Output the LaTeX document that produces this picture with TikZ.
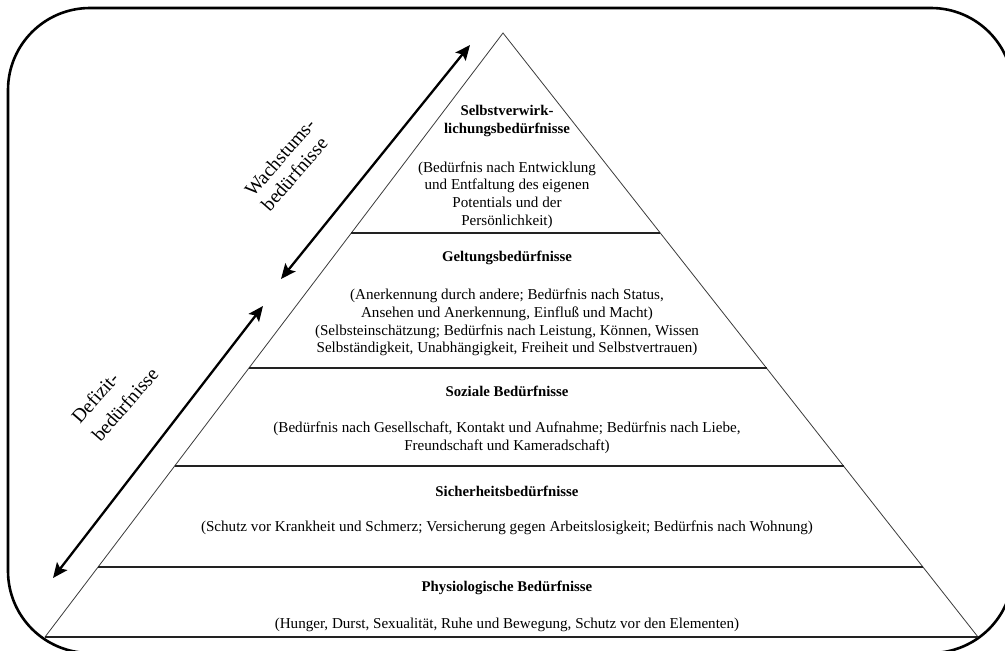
\documentclass[tikz,border=0pt]{standalone}
\usepackage{fontspec}
\setmainfont{Liberation Serif}
\usepackage{tikz}
\usetikzlibrary{
  arrows.meta, positioning, calc
}
\definecolor{colInk}    {HTML}{000000}
\definecolor{colEdge}   {HTML}{3A3A3A}
\definecolor{colTier}   {HTML}{222222}
\tikzset{
  frame/.style={
    draw=colInk, line width=2.6pt, rounded corners=82pt
  },
  pyredge/.style={draw=colEdge, line width=0.8pt},
  tierline/.style={draw=colTier, line width=1.5pt},
  tiertitle/.style={
    align=center, inner sep=0pt,
    font=\fontsize{14.8}{18}\selectfont\bfseries
  },
  tiertext/.style={
    align=center, inner sep=0pt,
    font=\fontsize{15.1}{17.8}\selectfont
  },
  needlabel/.style={
    align=left, inner sep=0pt, rotate=49,
    font=\fontsize{19.5}{22}\selectfont
  },
  needarr/.style={
    {Stealth[length=15pt,width=13pt,inset=3pt]}-{Stealth[length=15pt,width=13pt,inset=3pt]},
    line width=2.3pt, draw=colInk
  }
}

\begin{document}
\begin{tikzpicture}[x=1pt, y=-1pt]
  \useasboundingbox (0,0) rectangle (1005,651);

  %% ── Frame ─────────────────────────────────────────────────────────
  \draw[frame] (8,8) rectangle (1013,653);

  %% ── Pyramid ───────────────────────────────────────────────────────
  \coordinate (apex) at (503,33);
  \coordinate (bl)   at (45,637);
  \coordinate (br)   at (978,637);
  \draw[pyredge] (bl) -- (apex) -- (br);
  \draw[tierline] (bl) -- (br);
  \foreach \t in {0.331, 0.555, 0.717, 0.884}
    \draw[tierline] ($(apex)!\t!(bl)$) -- ($(apex)!\t!(br)$);

  %% ── Tier 5: Selbstverwirklichung ─────────────────────────────────
  \node[tiertitle] (selbstT) at (507,121)
    {Selbstverwirk-\\lichungsbedürfnisse};
  \node[tiertext] (selbstB) at (507,195)
    {(Bedürfnis nach Entwicklung\\und Entfaltung des eigenen\\Potentials und der\\Persönlichkeit)};

  %% ── Tier 4: Geltung ──────────────────────────────────────────────
  \node[tiertitle] (geltT) at (507,258) {Geltungsbedürfnisse};
  \node[tiertext] (geltB) at (507,322.5)
    {(Anerkennung durch andere; Bedürfnis nach Status,\\
     Ansehen und Anerkennung, Einfluß und Macht)\\
     (Selbsteinschätzung; Bedürfnis nach Leistung, Können, Wissen\\
     Selbständigkeit, Unabhängigkeit, Freiheit und Selbstvertrauen)};

  %% ── Tier 3: Soziales ─────────────────────────────────────────────
  \node[tiertitle] (sozT) at (507,391) {Soziale Bedürfnisse};
  \node[tiertext] (sozB) at (507,438)
    {(Bedürfnis nach Gesellschaft, Kontakt und Aufnahme; Bedürfnis nach Liebe,\\
     Freundschaft und Kameradschaft)};

  %% ── Tier 2: Sicherheit ───────────────────────────────────────────
  \node[tiertitle] (sichT) at (507,491) {Sicherheitsbedürfnisse};
  \node[tiertext] (sichB) at (507,528)
    {(Schutz vor Krankheit und Schmerz; Versicherung gegen Arbeitslosigkeit; Bedürfnis nach Wohnung)};

  %% ── Tier 1: Physiologie ──────────────────────────────────────────
  \node[tiertitle] (physT) at (507,588) {Physiologische Bedürfnisse};
  \node[tiertext] (physB) at (507,625)
    {(Hunger, Durst, Sexualität, Ruhe und Bewegung, Schutz vor den Elementen)};

  %% ── Side arrows and labels ───────────────────────────────────────
  \coordinate (wachsTop) at (470,45);
  \coordinate (wachsBot) at (281,279);
  \coordinate (defTop)   at (263,306);
  \coordinate (defBot)   at (53,578);
  \draw[needarr] (wachsBot) -- (wachsTop);
  \draw[needarr] (defBot) -- (defTop);

  \node[needlabel] (wachsL) at (288,164.5) {Wachstums-\\bedürfnisse};
  \node[needlabel, font=\fontsize{19.5}{27}\selectfont] (defL) at (114.7,395.4)
    {Defizit-\\bedürfnisse};
\end{tikzpicture}
\end{document}
